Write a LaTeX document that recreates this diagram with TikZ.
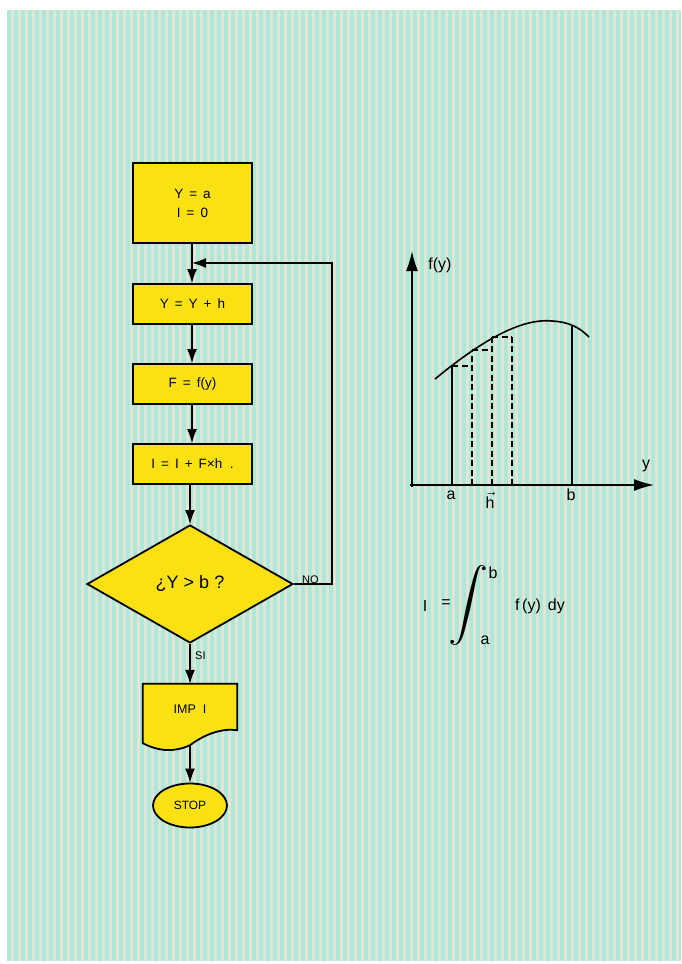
\documentclass[tikz,border=0pt]{standalone}
\usepackage{fontspec}
\setmainfont{Liberation Sans}
\usetikzlibrary{shapes.geometric,arrows.meta}
\definecolor{bg}{RGB}{228,228,212}
\definecolor{bgc}{RGB}{172,233,216}
\definecolor{yel}{RGB}{250,226,18}
\tikzset{
  box/.style={draw=black,fill=yel,line width=1.8pt,minimum width=119pt,minimum height=40pt,inner sep=0pt,font=\fontsize{13.5}{19}\selectfont},
  flow/.style={line width=1.4pt,-{Latex[length=14pt,width=10pt]}},
  lbl/.style={font=\fontsize{11}{13}\selectfont,inner sep=1pt},
  glbl/.style={font=\fontsize{16}{18}\selectfont,inner sep=0pt},
  axis/.style={line width=1.6pt,-{Latex[length=20pt,width=12pt]}},
  thin/.style={line width=1.1pt},
  dsh/.style={line width=1.1pt,dash pattern=on 6pt off 3.5pt}
}
\begin{document}
\begin{tikzpicture}[x=1pt,y=-1pt]
\useasboundingbox (0,0) rectangle (681,964);
\fill[white] (0,0) rectangle (681,964);
\fill[bg] (7,10) rectangle (681,961);
\foreach \s in {7,14,...,679} {\fill[bgc] (\s,10) rectangle ({min(\s+4,681)},961);}

% flowchart
\node[box,minimum height=80pt,align=center] (init) at (192.5,203) {Y \,=\, a\\I \,=\, 0};
\node[box] (inc) at (192.5,304) {Y \,=\, Y \,+\, h};
\node[box] (fy) at (192.5,384) {F \,=\, f(y)};
\node[box] (acc) at (192.5,464) {I \,=\, I \,+\, F\texttimes h\ \ .};
\node[diamond,draw=black,fill=yel,line width=1.8pt,minimum width=206pt,minimum height=118pt,inner sep=0pt,font=\fontsize{18}{20}\selectfont] (dec) at (190,584) {¿Y > b ?};
\node[draw=none,minimum width=94pt,minimum height=61pt,inner sep=0pt] (doc) at (190,714.5) {};
\fill[yel,draw=black,line width=1.8pt] (doc.north west) -- (doc.north east) -- ([yshift=15pt]doc.south east)
  .. controls (222,728) and (205,734) .. (doc.south)
  .. controls (175,752) and (160,752) .. ([yshift=2pt]doc.south west) -- cycle;
\node[font=\fontsize{12.5}{14}\selectfont] at (190,709) {IMP\ \ I};
\node[ellipse,draw=black,fill=yel,line width=1.8pt,minimum width=74pt,minimum height=44pt,inner sep=0pt,font=\fontsize{12}{14}\selectfont] (stop) at (190,805.5) {STOP};

\coordinate (j) at (192,263);
\draw[flow] (init.south -| j) -- (inc.north -| j);
\draw[flow] (inc.south -| j) -- (fy.north -| j);
\draw[flow] (fy.south -| j) -- (acc.north -| j);
\draw[flow] (acc.south -| dec.north) -- (dec.north);
\draw[flow] (dec.east) -- (332,584) -- (332,263) -- (j);
\draw[flow] (dec.south) -- (doc.north -| dec.south);
\draw[flow] (doc.south) -- (stop.north);
\node[lbl,anchor=south west] at ([xshift=7pt,yshift=-1pt]dec.east) {NO};
\node[lbl,anchor=west] at (194,656) {SI};

% graph
\draw[axis] (412,487) -- (412,251);
\draw[axis] (410,485) -- (654,485);
\draw[line width=1.6pt] (435,379) .. controls (480,342) and (520,318) .. (552,321) .. controls (570,322) and (580,328) .. (589,337);
\draw[thin] (452,485) -- (452,366);
\draw[thin] (572,485) -- (572,325);
\draw[dsh] (472,485) -- (472,350);
\draw[dsh] (492,485) -- (492,337);
\draw[dsh] (512,485) -- (512,333);
\draw[dsh] (452,366) -- (472,366);
\draw[dsh] (472,350) -- (492,350);
\draw[dsh] (492,337) -- (512,337);
\node[glbl,font=\fontsize{16}{18}\selectfont] at (440,265) {f(y)};
\node[glbl] at (646,466) {y};
\node[glbl] at (451,495) {a};
\node[glbl,anchor=north] at (490,492) {$\vec{\hbox{h}}$};
\node[glbl] at (571,495) {b};

% formula
\node[glbl] at (425,606) {I};
\node[glbl] at (446,604) {=};
\node[inner sep=0pt] (int) at (468,605) {\scalebox{4}[3.6]{$\displaystyle\int$}};
\node[glbl] at (493,573) {b};
\node[glbl] at (485,640) {a};
\node[glbl] at (540,606) {f\,(y)\, dy};
\end{tikzpicture}
\end{document}
